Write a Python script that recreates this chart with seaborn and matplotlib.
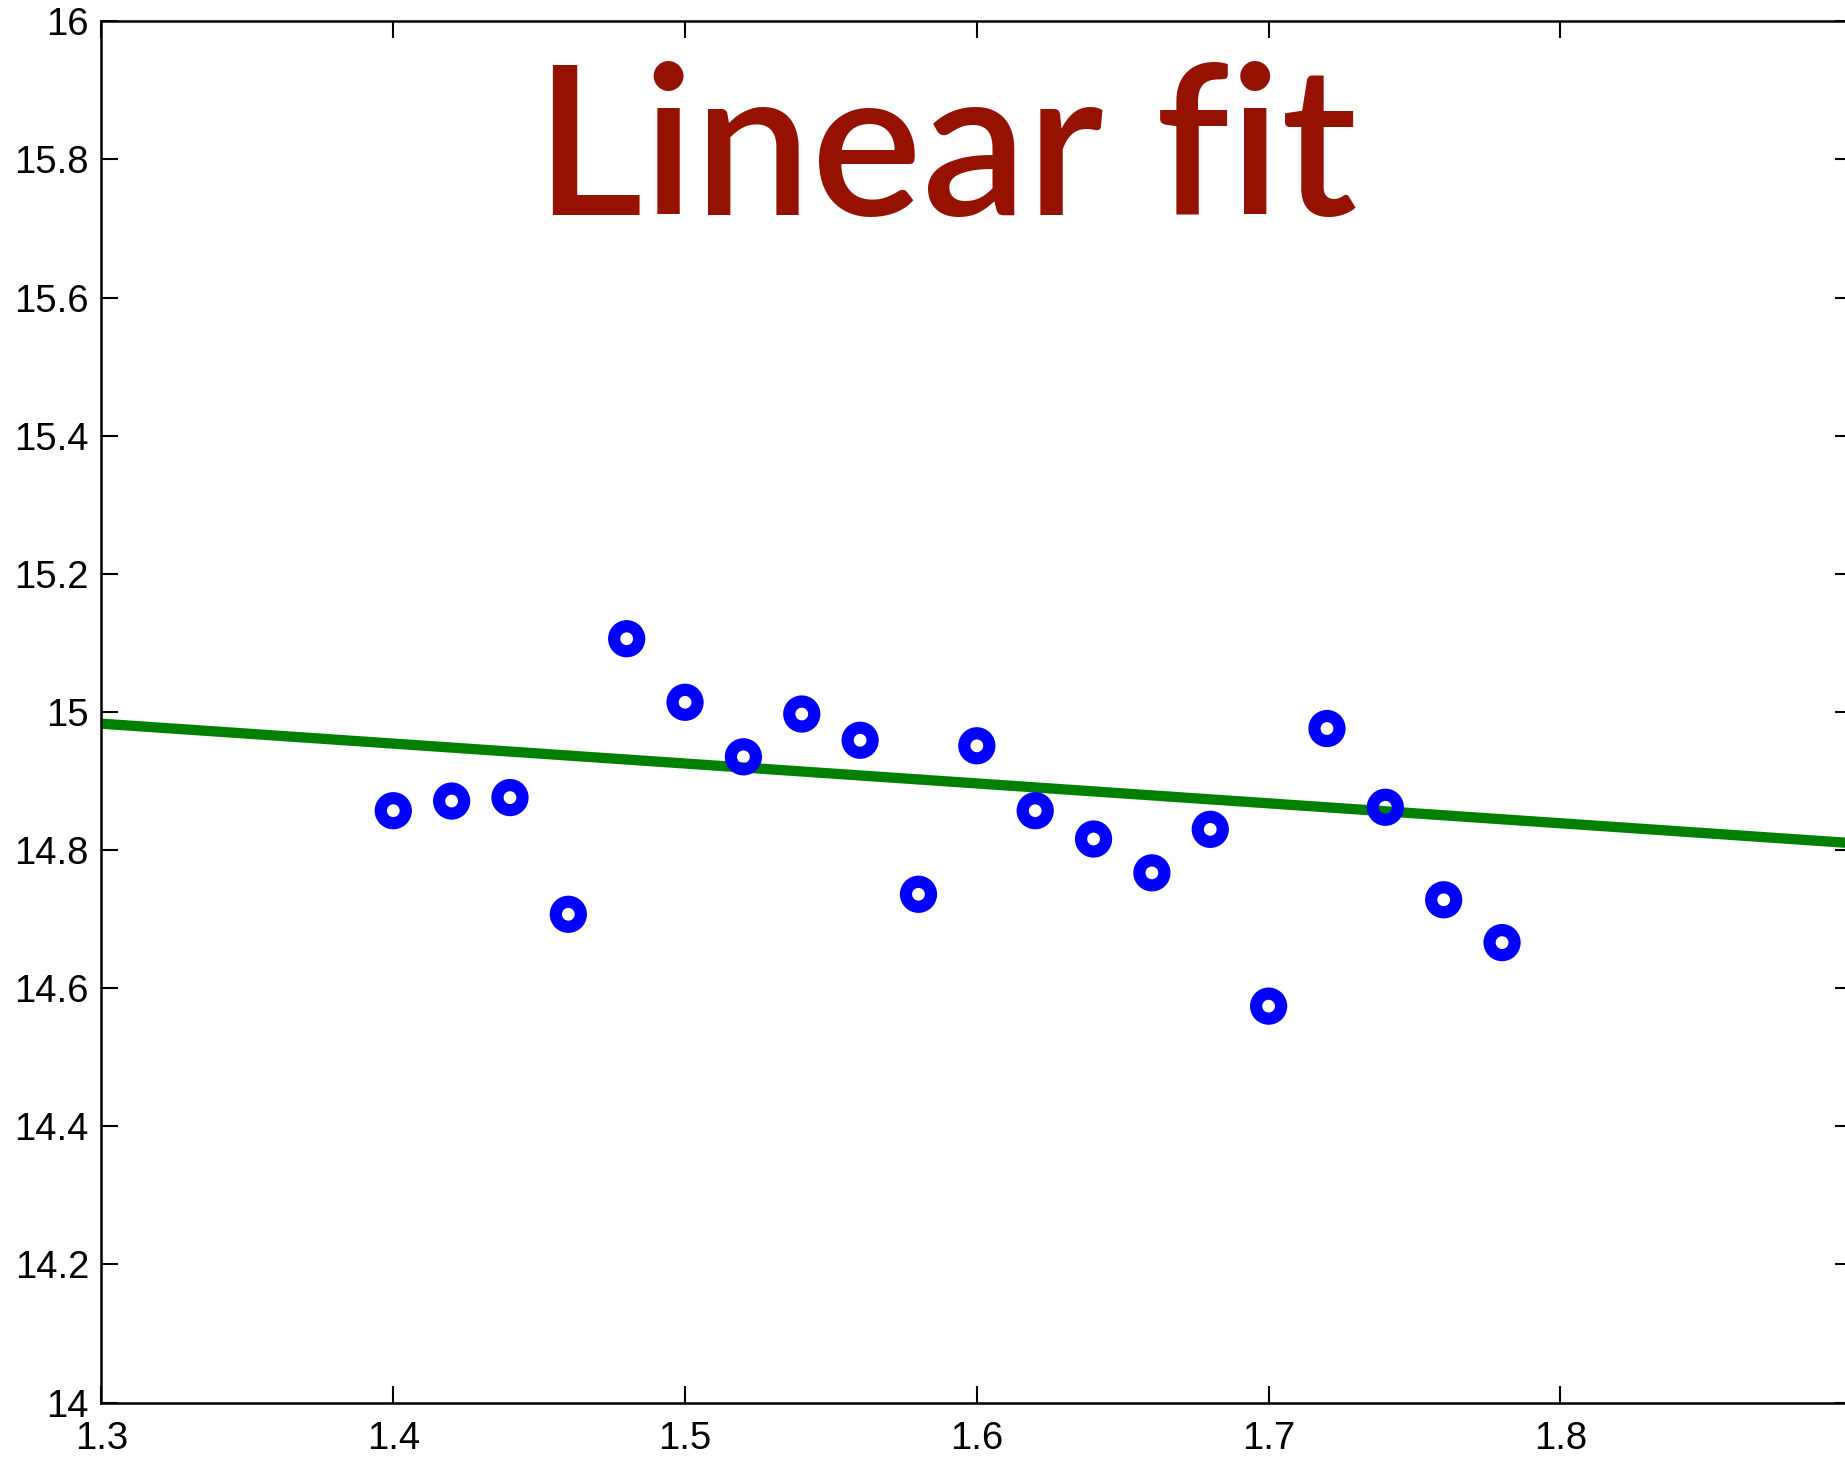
import matplotlib
matplotlib.use("Agg")
import matplotlib.pyplot as plt
import seaborn as sns
import pandas as pd

# Data
x_vals = [1.40, 1.42, 1.44, 1.46, 1.48, 1.50, 1.52, 1.54, 1.56, 1.58,
          1.60, 1.62, 1.64, 1.66, 1.68, 1.70, 1.72, 1.74, 1.76, 1.78]
y_vals = [14.857, 14.871, 14.876, 14.707, 15.106, 15.014, 14.935, 14.997, 14.959, 14.736,
          14.951, 14.857, 14.816, 14.767, 14.830, 14.574, 14.976, 14.862, 14.728, 14.666]
fit_x = [1.3, 1.9]
fit_y = [14.983, 14.810]
x_ticks = [1.3, 1.4, 1.5, 1.6, 1.7, 1.8]
x_tick_labels = ["1.3", "1.4", "1.5", "1.6", "1.7", "1.8"]
y_ticks = [14, 14.2, 14.4, 14.6, 14.8, 15, 15.2, 15.4, 15.6, 15.8, 16]
y_tick_labels = ["14", "14.2", "14.4", "14.6", "14.8", "15", "15.2", "15.4", "15.6", "15.8", "16"]
title_text = "Linear fit"

sns.set_theme(style="white")
plt.rcParams['font.family'] = ['Liberation Sans', 'DejaVu Sans']

pts = pd.DataFrame({"x": x_vals, "y": y_vals})
fit = pd.DataFrame({"x": fit_x, "y": fit_y})

fig = plt.figure(figsize=(18.45, 14.61), dpi=100)
ax = fig.add_axes([0.0550, 0.0400, 0.9489, 0.9454])

sns.lineplot(data=fit, x="x", y="y", ax=ax, color="#008000", linewidth=7.4, zorder=2)
sns.scatterplot(data=pts, x="x", y="y", ax=ax, marker="o", s=18**2,
                facecolors="none", edgecolor="#0000ff", linewidth=8.8, zorder=3)

ax.set_xlim(1.3, 1.9)
ax.set_ylim(14, 16)
ax.set_xticks(x_ticks)
ax.set_xticklabels(x_tick_labels)
ax.set_yticks(y_ticks)
ax.set_yticklabels(y_tick_labels)
ax.set_xlabel("")
ax.set_ylabel("")

for sp in ax.spines.values():
    sp.set_visible(True)
    sp.set_color("black")
    sp.set_linewidth(1.8)

ax.tick_params(axis="both", which="both", direction="in", length=12, width=1.5,
               color="black", labelsize=27.5, labelcolor="black",
               top=True, right=True, bottom=True, left=True)
ax.tick_params(axis="x", pad=13)
ax.tick_params(axis="y", pad=9)

fig.text(0.513, 0.853, title_text, ha="center", va="baseline",
         fontsize=150, fontweight="semibold", color="#951200",
         family=["Lato", "DejaVu Sans"])

fig.savefig("out.png", dpi=100)
